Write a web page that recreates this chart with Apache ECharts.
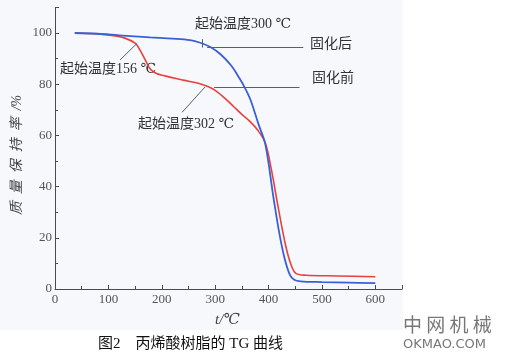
<!DOCTYPE html>
<html>
<head>
<meta charset="utf-8">
<script src="https://cdn.jsdelivr.net/npm/echarts@6/dist/echarts.min.js"></script>
<style>html,body{margin:0;padding:0;background:#fff}#c{width:508px;height:359px}</style>
</head>
<body>
<div id="c"></div>
<script>
// Data (temperature °C, mass retention %)
const afterTemps = [37, 80, 120, 178, 220, 253, 272, 291, 310, 330, 345, 356, 366, 381, 394, 409, 420, 430, 440, 448, 460, 500, 550, 600];
const afterVals  = [100, 99.7, 99.1, 98.3, 97.8, 97.2, 96.2, 94.5, 91.7, 87.3, 82.5, 78.5, 74, 64.5, 56.5, 36, 22, 12, 5.5, 3.6, 3, 2.7, 2.5, 2.3];
const beforeTemps = [37, 80, 110, 131, 150, 159, 169, 178, 188, 203, 240, 270, 285, 300, 320, 335, 350, 365, 380, 394, 405, 418, 432, 443, 452, 470, 530, 600];
const beforeVals  = [100, 99.6, 98.9, 98, 96, 93.4, 89.5, 86, 84.4, 83.4, 81.6, 80.3, 79.2, 77.6, 74.2, 71.2, 68.2, 65.5, 62, 57, 47, 32, 17, 9, 6, 5.4, 5.1, 4.8];
const xTicks = [0, 100, 200, 300, 400, 500, 600];
const yTicks = [0, 20, 40, 60, 80, 100];
const seriesNames = ['固化后', '固化前'];

const serif = "'Liberation Serif','DejaVu Serif','Noto Sans CJK SC'";
const toPairs = (xs, ys) => xs.map((x, i) => [x, ys[i]]);
const lineStyleAnno = {color: '#556070', width: 1, type: 'solid'};

const chart = echarts.init(document.getElementById('c'), null, {renderer: 'canvas'});
chart.setOption({
  backgroundColor: '#ffffff',
  animation: false,
  grid: {left: 55, right: 106, top: 7.4, bottom: 70, containLabel: false},
  xAxis: {
    type: 'value', min: 0, max: 650, interval: 100,
    axisLine: {lineStyle: {color: '#4a4a4a', width: 1}},
    axisTick: {inside: true, length: 4, lineStyle: {color: '#4a4a4a'}},
    minorTick: {show: true, splitNumber: 2, length: 3, lineStyle: {color: '#4a4a4a'}},
    splitLine: {show: false},
    axisLabel: {margin: 4, color: '#555', fontFamily: serif, fontSize: 13,
      formatter: v => xTicks.includes(v) ? String(v) : ''}
  },
  yAxis: {
    type: 'value', min: 0, max: 110, interval: 20,
    axisLine: {show: true, lineStyle: {color: '#4a4a4a', width: 1}},
    axisTick: {show: true, inside: true, length: 4, lineStyle: {color: '#4a4a4a'}},
    minorTick: {show: true, splitNumber: 2, length: 3, lineStyle: {color: '#4a4a4a'}},
    splitLine: {show: false},
    axisLabel: {margin: 3, color: '#555', fontFamily: serif, fontSize: 13,
      formatter: v => yTicks.includes(v) ? String(v) : ''}
  },
  series: [
    {
      name: seriesNames[0], type: 'line', data: toPairs(afterTemps, afterVals),
      smooth: 0.35, symbol: 'none', lineStyle: {color: '#3b5fd6', width: 1.8}, z: 3,
      markLine: {
        silent: true, symbol: 'none', label: {show: false}, lineStyle: lineStyleAnno,
        data: [
          [{coord: [276, 97.6]}, {coord: [276, 94.3]}],
          [{coord: [285, 94.3]}, {coord: [465, 94.3]}],
          [{coord: [298, 78.9]}, {coord: [458, 78.9]}],
          [{coord: [122, 89.5]}, {coord: [154, 96]}],
          [{coord: [238, 69]}, {coord: [281, 78.9]}]
        ]
      }
    },
    {
      name: seriesNames[1], type: 'line', data: toPairs(beforeTemps, beforeVals),
      smooth: 0.35, symbol: 'none', lineStyle: {color: '#e8413c', width: 1.6}, z: 2
    }
  ],
  graphic: [
    {type: 'rect', z: -10, shape: {x: 0, y: 0, width: 403, height: 330}, style: {fill: '#f6f8fc'}},
    {type: 'text', left: 195, top: 17, style: {text: '起始温度300 ℃', font: "14px " + serif, fill: '#333'}},
    {type: 'text', left: 310, top: 37, style: {text: '固化后', font: "14px " + serif, fill: '#333'}},
    {type: 'text', left: 312, top: 71, style: {text: '固化前', font: "14px " + serif, fill: '#333'}},
    {type: 'text', left: 60, top: 62, style: {text: '起始温度156 ℃', font: "14px " + serif, fill: '#333'}},
    {type: 'text', left: 138, top: 117, style: {text: '起始温度302 ℃', font: "14px " + serif, fill: '#333'}},
    {type: 'text', x: 17, y: 155, rotation: Math.PI / 2, style: {text: '质  量  保  持  率  /%', font: "italic 14px " + serif, fill: '#444', align: 'center', verticalAlign: 'middle'}},
    {type: 'text', left: 215, top: 313, style: {text: 't/℃', font: "italic 15px " + serif, fill: '#444'}},
    {type: 'text', left: 98, top: 337, style: {text: '图2    丙烯酸树脂的 TG 曲线', font: "15px " + serif, fill: '#111'}},
    {type: 'text', left: 403, top: 315, style: {text: '中 网 机 械', font: "19px 'Noto Sans CJK SC'", fill: '#777'}},
    {type: 'text', left: 403, top: 338, style: {text: 'OKMAO.COM', font: "13px 'DejaVu Sans'", fill: '#777'}}
  ]
});
</script>
</body>
</html>
